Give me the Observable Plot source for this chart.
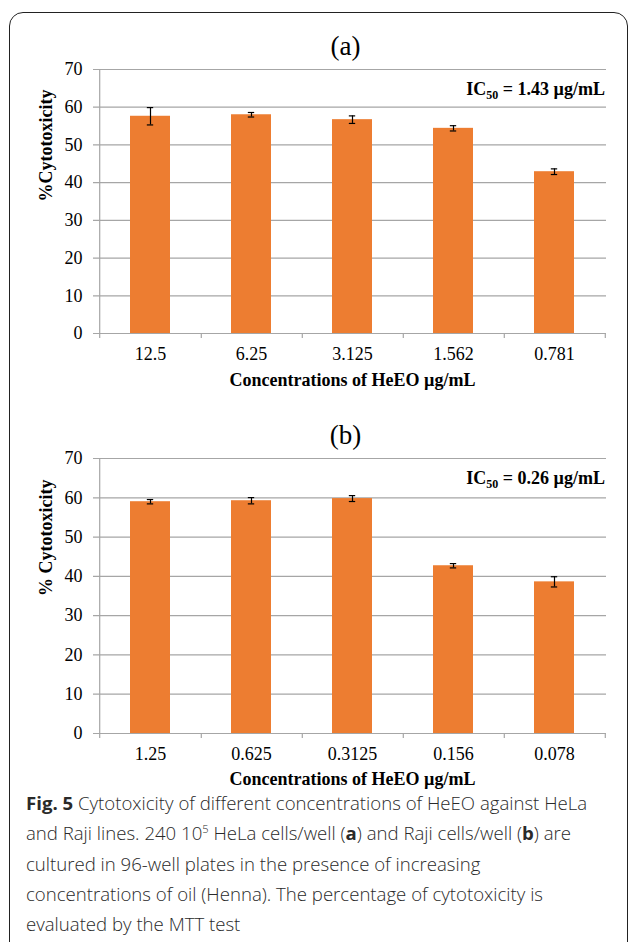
<!DOCTYPE html>
<html><head><meta charset="utf-8">
<script src="https://cdn.jsdelivr.net/npm/d3@7"></script>
<script src="https://cdn.jsdelivr.net/npm/@observablehq/plot@0.6"></script>
<style>
body{margin:0;background:#fff;}
#wrap{position:relative;width:629px;height:942px;overflow:hidden;background:#fff;}
#box{position:absolute;left:9px;top:12px;width:619px;height:945px;border:1.6px solid #222;border-radius:14px;box-sizing:border-box;}
.panel{position:absolute;left:0;}
.ic{position:absolute;right:24px;font-family:"Liberation Serif";font-weight:bold;font-size:18px;line-height:20px;white-space:nowrap;color:#000;}
.ic sub{font-size:12px;vertical-align:-4px;line-height:0;}
#cap{position:absolute;left:26px;top:794px;font-family:"Open Sans";font-weight:300;font-size:18.6px;color:#2a2a2a;white-space:nowrap;}
#cap div{line-height:18px;height:18px;margin-bottom:12.3px;}
#cap b{font-weight:bold;}
#cap sup{font-size:11px;vertical-align:7px;line-height:0;}
</style></head><body>
<div id="wrap">
<div id="box"></div>
<div id="pa" class="panel" style="top:0px"></div>
<div id="pb" class="panel" style="top:390px"></div>
<div class="ic" style="top:79px">IC<sub>50</sub> = 1.43 µg/mL</div>
<div class="ic" style="top:468px">IC<sub>50</sub> = 0.26 µg/mL</div>
<div id="cap">
<div><b>Fig. 5</b> Cytotoxicity of different concentrations of HeEO against HeLa</div>
<div>and Raji lines. 240 10<sup>5</sup> HeLa cells/well (<b>a</b>) and Raji cells/well (<b>b</b>) are</div>
<div>cultured in 96-well plates in the presence of increasing</div>
<div>concentrations of oil (Henna). The percentage of cytotoxicity is</div>
<div>evaluated by the MTT test</div>
</div>
</div>
<script>
const concA = ["12.5", "6.25", "3.125", "1.562", "0.781"];
const valA = [57.6, 58.0, 56.7, 54.4, 42.9];
const errA = [2.3, 0.6, 1.0, 0.7, 0.75];
const concB = ["1.25", "0.625", "0.3125", "0.156", "0.078"];
const valB = [59.0, 59.25, 59.8, 42.7, 38.6];
const errB = [0.55, 0.8, 0.75, 0.55, 1.3];
const yTicks = [0, 10, 20, 30, 40, 50, 60, 70];
const xTitle = "Concentrations of HeEO µg/mL";

function panel(cats, vals, errs, title, ylabel, H, mt, mb, titleDy) {
  const W = 629, ML = 98, MR = 23;
  const catW = (W - ML - MR) / cats.length;
  const plotH = H - mt - mb;
  const bw = catW * 0.4;
  const capInset = (bw - 7) / 2;
  const data = cats.map((c, i) => ({c, v: vals[i], lo: vals[i] - errs[i], hi: vals[i] + errs[i]}));
  const grid = "#a6a6a6";
  return Plot.plot({
    width: W, height: H, marginTop: mt, marginBottom: mb, marginLeft: ML, marginRight: MR,
    style: {fontFamily: "Liberation Serif", fontSize: "18px", color: "#000", background: "transparent", overflow: "visible"},
    x: {domain: cats, paddingInner: 0.6, paddingOuter: 0.3, axis: null, label: null},
    y: {domain: [0, 70], axis: null, label: null},
    marks: [
      Plot.ruleY(yTicks, {stroke: grid, strokeWidth: 1.2, insetLeft: -5}),
      Plot.ruleX([cats[0]], {dx: -catW / 2, stroke: grid, strokeWidth: 1.2, insetBottom: -5}),
      Plot.ruleX(cats, {dx: catW / 2, stroke: grid, strokeWidth: 1.2, insetTop: plotH, insetBottom: -5}),
      Plot.barY(data, {x: "c", y: "v", fill: "#ED7D31"}),
      Plot.ruleX(data, {x: "c", y1: "lo", y2: "hi", stroke: "#000", strokeWidth: 1.2}),
      Plot.tickY(data, {x: "c", y: "hi", stroke: "#000", strokeWidth: 1.2, insetLeft: capInset, insetRight: capInset}),
      Plot.tickY(data, {x: "c", y: "lo", stroke: "#000", strokeWidth: 1.2, insetLeft: capInset, insetRight: capInset}),
      Plot.axisY({ticks: yTicks, tickSize: 0, tickPadding: 16, fontSize: 18, label: null}),
      Plot.axisX({tickSize: 0, tickPadding: 14, fontSize: 18, label: null}),
      Plot.text([title], {frameAnchor: "top", lineAnchor: "middle", dx: -7, dy: -23, fontSize: 27, fill: "#000"}),
      Plot.text([xTitle], {frameAnchor: "bottom", lineAnchor: "middle", dy: titleDy, fontSize: 18, fontWeight: "bold", fill: "#000"}),
      Plot.text([ylabel], {frameAnchor: "left", dx: -52, rotate: -90, fontSize: 18, fontWeight: "bold", fill: "#000"})
    ]
  });
}

document.getElementById("pa").append(panel(concA, valA, errA, "(a)", "%Cytotoxicity", 395, 69, 62, 47));
document.getElementById("pb").append(panel(concB, valB, errB, "(b)", "% Cytotoxicity", 405, 68, 62, 46));
</script>
</body></html>
